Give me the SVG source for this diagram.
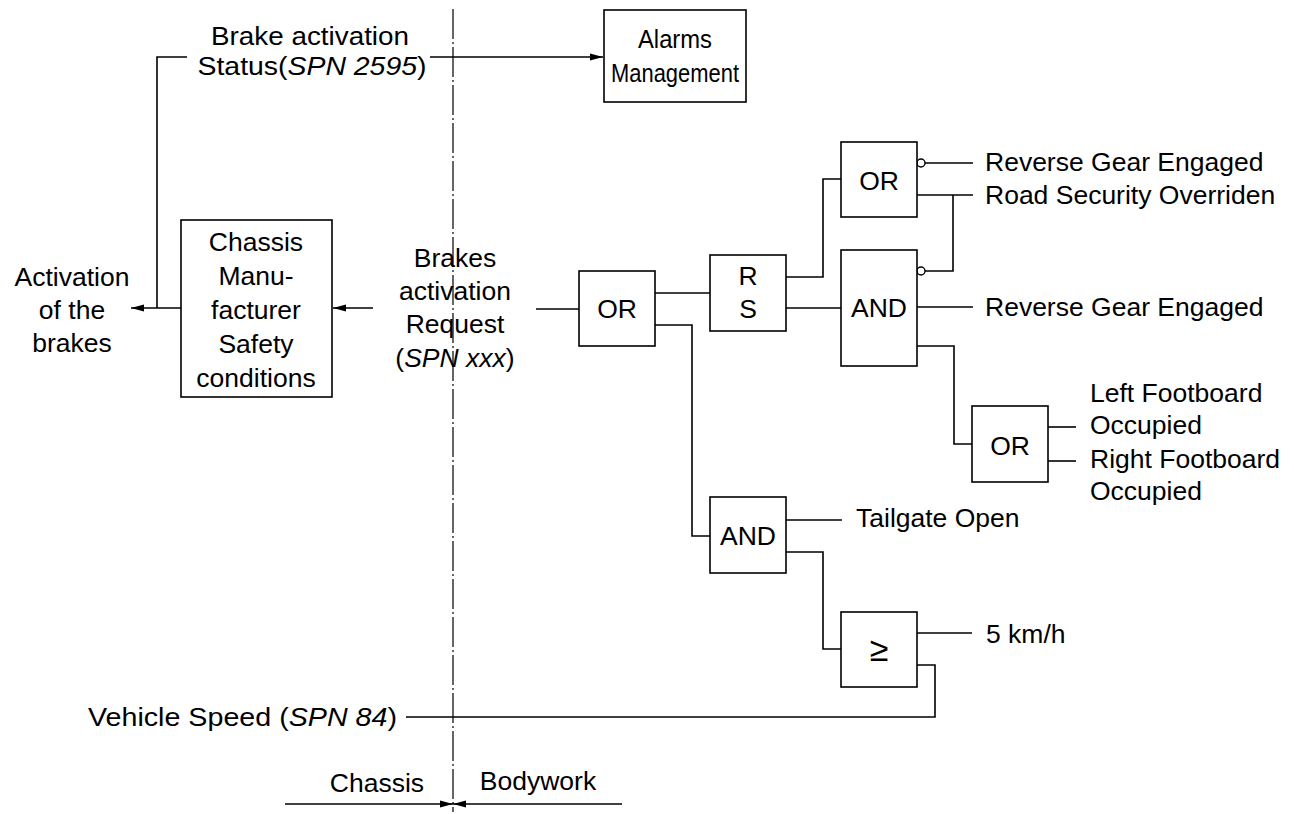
<svg xmlns="http://www.w3.org/2000/svg" width="1294" height="814" viewBox="0 0 1294 814">
<style>
text{font-family:"Liberation Sans",Arial,Helvetica,sans-serif;font-size:26.5px;fill:#000}
.c{text-anchor:middle}
.e{text-anchor:end}
.box{fill:#fff;stroke:#000;stroke-width:1.6}
.ln{fill:none;stroke:#000;stroke-width:1.6}
.inv{fill:#fff;stroke:#000;stroke-width:1.4}
.dd{fill:none;stroke:#000;stroke-width:1.2;stroke-dasharray:30 3 2 3}
.big{font-size:34px}
</style>
<defs>
<marker id="ah" markerWidth="14" markerHeight="10" refX="13" refY="5" orient="auto" markerUnits="userSpaceOnUse">
<path d="M0,1.5 L13,5 L0,8.5 Z" fill="#000"/>
</marker>
</defs>
<line class="dd" x1="453" y1="9" x2="453" y2="812"/>
<g id="connectors">
<path class="ln" d="M430,57 H603" marker-end="url(#ah)"/>
<path class="ln" d="M187,57 H157 V308"/>
<path class="ln" d="M181,308 H131" marker-end="url(#ah)"/>
<path class="ln" d="M373,308 H333" marker-end="url(#ah)"/>
<path class="ln" d="M536,309 H579"/>
<path class="ln" d="M655,293 H710"/>
<path class="ln" d="M655,325 H692 V536 H710"/>
<path class="ln" d="M786,277 H823 V179 H841"/>
<path class="ln" d="M786,308 H841"/>
<path class="ln" d="M925,163 H973"/>
<path class="ln" d="M917,195 H973"/>
<path class="ln" d="M953,195 V271 H925"/>
<path class="ln" d="M917,307 H973"/>
<path class="ln" d="M917,346 H954 V444 H972"/>
<path class="ln" d="M1048,427 H1076"/>
<path class="ln" d="M1048,461 H1076"/>
<path class="ln" d="M786,520 H842"/>
<path class="ln" d="M786,552 H823 V649 H841"/>
<path class="ln" d="M917,633 H972"/>
<path class="ln" d="M917,665 H935 V717 H406"/>
<path class="ln" d="M285,804 H453" marker-end="url(#ah)"/>
<path class="ln" d="M622,804 H453" marker-end="url(#ah)"/>
<circle class="inv" cx="921" cy="163" r="4"/>
<circle class="inv" cx="921" cy="271" r="4"/>
</g>
<g id="status-label">
<text class="c" x="310" y="45" textLength="198" lengthAdjust="spacingAndGlyphs">Brake activation</text>
<text class="c" x="312" y="75" textLength="229" lengthAdjust="spacingAndGlyphs">Status(<tspan font-style="italic">SPN 2595</tspan>)</text>
</g>
<g id="alarms">
<rect class="box" x="604" y="10" width="142" height="92"/>
<text class="c" x="675" y="48" textLength="74" lengthAdjust="spacingAndGlyphs">Alarms</text>
<text class="c" x="675" y="82" textLength="128" lengthAdjust="spacingAndGlyphs">Management</text>
</g>
<g id="activation">
<text class="c" x="72" y="286">Activation</text>
<text class="c" x="72" y="319">of the</text>
<text class="c" x="72" y="352">brakes</text>
</g>
<g id="chassis-safety">
<rect class="box" x="181" y="220" width="151" height="177"/>
<text class="c" x="256" y="251">Chassis</text>
<text class="c" x="256" y="285">Manu-</text>
<text class="c" x="256" y="319">facturer</text>
<text class="c" x="256" y="353">Safety</text>
<text class="c" x="256" y="387">conditions</text>
</g>
<g id="brakes-request">
<text class="c" x="455" y="267">Brakes</text>
<text class="c" x="455" y="300">activation</text>
<text class="c" x="455" y="333">Request</text>
<text class="c" x="455" y="367">(<tspan font-style="italic">SPN xxx</tspan>)</text>
</g>
<g id="or1">
<rect class="box" x="579" y="271" width="76" height="75"/>
<text class="c" x="617" y="318">OR</text>
</g>
<g id="rs">
<rect class="box" x="710" y="255" width="76" height="76"/>
<text class="c" x="748" y="285">R</text>
<text class="c" x="748" y="318">S</text>
</g>
<g id="or2">
<rect class="box" x="841" y="142" width="76" height="75"/>
<text class="c" x="879" y="190">OR</text>
</g>
<g id="and1">
<rect class="box" x="841" y="250" width="76" height="116"/>
<text class="c" x="879" y="317">AND</text>
</g>
<g id="or3">
<rect class="box" x="972" y="406" width="76" height="76"/>
<text class="c" x="1010" y="455">OR</text>
</g>
<g id="and2">
<rect class="box" x="710" y="497" width="76" height="76"/>
<text class="c" x="748" y="545">AND</text>
</g>
<g id="geq">
<rect class="box" x="841" y="612" width="76" height="75"/>
<text class="c big" x="879" y="661">≥</text>
</g>
<g id="inputs">
<text x="985" y="171">Reverse Gear Engaged</text>
<text x="985" y="204">Road Security Overriden</text>
<text x="985" y="316">Reverse Gear Engaged</text>
<text x="1090" y="402">Left Footboard</text>
<text x="1090" y="434">Occupied</text>
<text x="1090" y="468">Right Footboard</text>
<text x="1090" y="500">Occupied</text>
<text x="856" y="527">Tailgate Open</text>
<text x="986" y="643">5 km/h</text>
<text x="88" y="726" textLength="309" lengthAdjust="spacingAndGlyphs">Vehicle Speed (<tspan font-style="italic">SPN 84</tspan>)</text>
</g>
<g id="zones">
<text class="c" x="377" y="792">Chassis</text>
<text class="c" x="538" y="790">Bodywork</text>
</g>
</svg>
